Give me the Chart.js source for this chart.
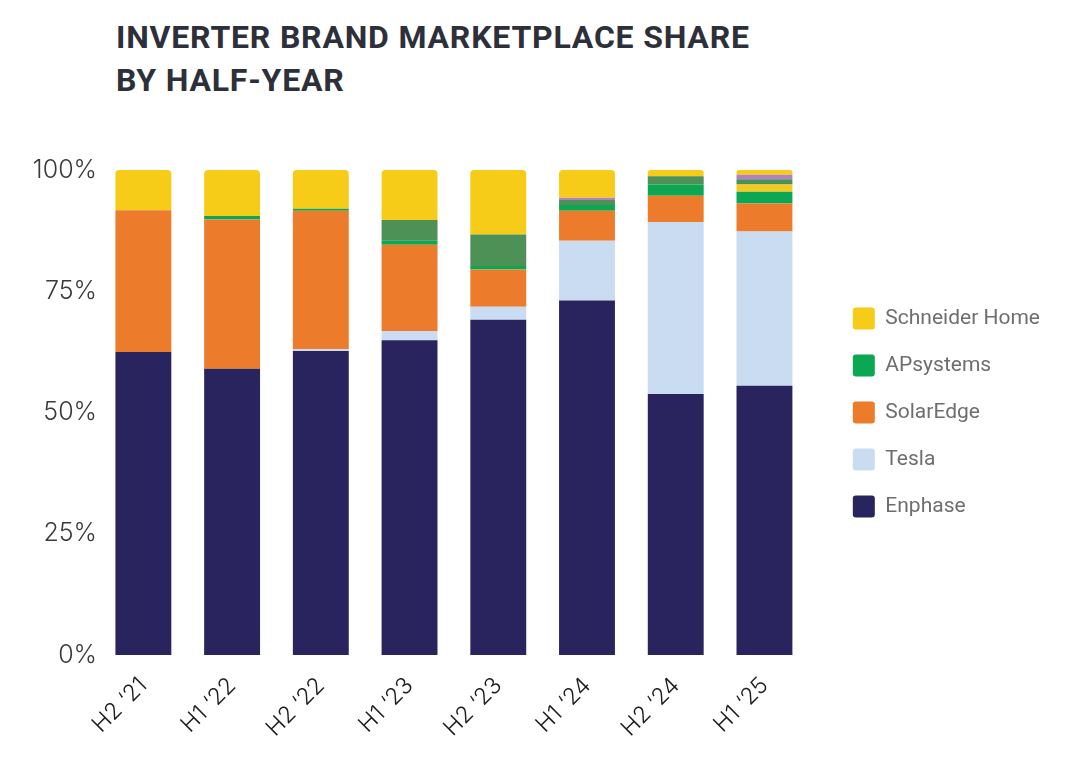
<!DOCTYPE html>
<html>
<head>
<meta charset="utf-8">
<script src="https://cdn.jsdelivr.net/npm/chart.js@4.4.1/dist/chart.umd.min.js"></script>
<style>
  html, body { margin: 0; padding: 0; background: #fff; }
  #wrap { position: relative; width: 1080px; height: 782px; }
  #title {
    position: absolute; left: 116px; top: 16px;
    font-family: Roboto, sans-serif; font-weight: 700; font-size: 32px;
    line-height: 43px; letter-spacing: 0.8px; color: #2d2f3a;
  }
  canvas { position: absolute; left: 0; top: 0; }
</style>
</head>
<body>
<div id="wrap">
  <div id="title">INVERTER BRAND MARKETPLACE SHARE<br>BY HALF-YEAR</div>
  <canvas id="myChart" width="1080" height="782"></canvas>
</div>
<script>
// half-year periods
var periods = ["H2 \u201821", "H1 \u201822", "H2 \u201822", "H1 \u201823", "H2 \u201823", "H1 \u201824", "H2 \u201824", "H1 \u201825"];

// shares in %, stacked bottom -> top
var enphase   = [62.5, 59.0, 62.7, 64.9, 69.1, 73.1, 53.8, 55.5];
var tesla     = [0, 0, 0.4, 1.9, 2.7, 12.3, 35.5, 31.8];
var solarEdge = [29.2, 30.8, 28.5, 17.8, 7.7, 6.2, 5.4, 5.8];
var apSystems = [0, 0.7, 0.4, 0.8, 0.7, 1.2, 2.3, 2.4];
var otherYellow = [0, 0, 0, 0, 0, 0, 0, 1.5];
var otherGreen  = [0, 0, 0, 4.3, 6.5, 1.0, 1.7, 1.1];
var otherPurple = [0, 0, 0, 0, 0, 0.5, 0, 0.9];
var schneider = [8.3, 9.5, 8.0, 10.3, 13.3, 5.7, 1.3, 1.0];

var yTicks = [0, 25, 50, 75, 100];

var legendNames = ["Schneider Home", "APsystems", "SolarEdge", "Tesla", "Enphase"];

function ds(label, data, color) {
    return { label: label, data: data, backgroundColor: color, borderWidth: 0, borderRadius: 4 };
}

new Chart("myChart", {
    type: "bar",
    data: {
        labels: periods,
        datasets: [
            ds("Enphase", enphase, "#29245e"),
            ds("Tesla", tesla, "#cadcf1"),
            ds("SolarEdge", solarEdge, "#ec7c2b"),
            ds("APsystems", apSystems, "#0ba752"),
            ds("Other 1", otherYellow, "#f6c921"),
            ds("Other 2", otherGreen, "#4d9157"),
            ds("Other 3", otherPurple, "#b580c2"),
            ds("Schneider Home", schneider, "#f6cc19")
        ]
    },
    options: {
        responsive: false,
        animation: false,
        layout: { padding: { top: 170, left: 0, right: 30, bottom: 0 } },
        datasets: { bar: { barPercentage: 0.63, categoryPercentage: 1.0 } },
        scales: {
            x: {
                stacked: true,
                grid: { display: false, drawTicks: false },
                border: { display: false },
                ticks: {
                    minRotation: 45, maxRotation: 45,
                    padding: 17,
                    color: "#1c1c1c",
                    font: { family: "Inter", size: 23, weight: 300 }
                },
                afterFit: function (s) { s.height = 127; }
            },
            y: {
                stacked: true,
                min: 0, max: 100,
                grid: { display: false, drawTicks: false },
                border: { display: false },
                afterBuildTicks: function (s) { s.ticks = yTicks.map(function (v) { return { value: v }; }); },
                ticks: {
                    padding: 2,
                    color: "#3a3a3a",
                    font: { family: "Inter", size: 25, weight: 300 },
                    callback: function (v) { return v + "%"; }
                },
                afterFit: function (s) { s.width = 99; }
            },
            gap: {
                position: "right",
                display: true,
                grid: { display: false, drawTicks: false },
                border: { display: false },
                ticks: { display: false },
                afterFit: function (s) { s.width = 19; }
            }
        },
        plugins: {
            title: { display: false },
            tooltip: { enabled: false },
            legend: {
                position: "right",
                fullSize: false,
                maxWidth: 400,
                reverse: true,
                labels: {
                    boxWidth: 22, boxHeight: 22,
                    useBorderRadius: true, borderRadius: 3,
                    padding: 25,
                    color: "#6e6e6e",
                    font: { family: "Roboto", size: 21 },
                    filter: function (item) { return legendNames.indexOf(item.text) >= 0; }
                }
            }
        }
    }
});
</script>
</body>
</html>
